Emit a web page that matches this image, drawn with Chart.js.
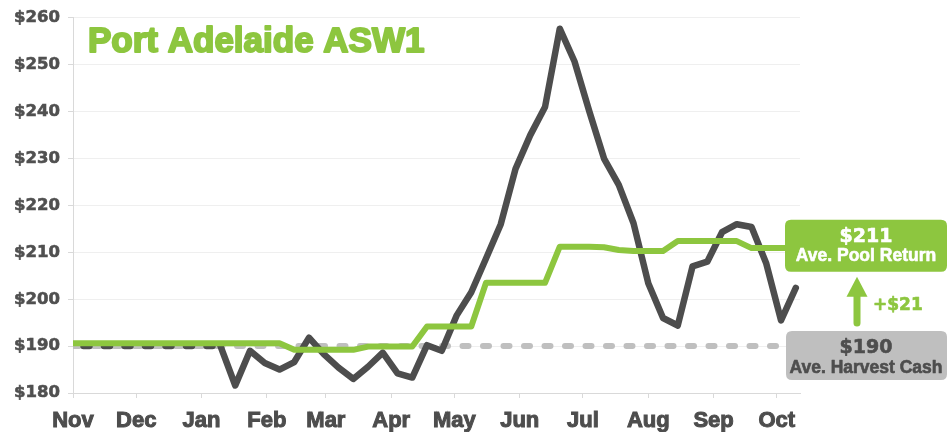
<!DOCTYPE html>
<html>
<head>
<meta charset="utf-8">
<title>Port Adelaide ASW1</title>
<script src="https://cdn.jsdelivr.net/npm/chart.js@4.4.0/dist/chart.umd.min.js"></script>
<style>
  html, body { margin: 0; padding: 0; background: #fff; }
  canvas { display: block; }
</style>
</head>
<body>
<canvas id="chart" width="948" height="432"></canvas>
<script>
// Port Adelaide ASW1 - weekly cash price vs pool return, Nov to Oct

// Weekly observations, as days since 1 Nov
const weekDays = [0, 7, 14, 21, 28, 35, 42, 49, 56, 63,
  70, 77, 84, 91, 98, 105, 112, 119, 126, 133,
  140, 147, 154, 161, 168, 175, 182, 189, 196, 203,
  210, 217, 224, 231, 238, 245, 252, 259, 266, 273,
  280, 287, 294, 301, 308, 315, 322, 329, 336, 343];

// Cash price ($/t)
const cashPrice = [190, 190, 190, 190, 190, 190, 190, 190, 190, 190,
  190, 181.6, 189.0, 186.4, 185.0, 186.6, 191.8, 188.3, 185.4, 183.0,
  185.6, 188.6, 184.2, 183.3, 190.2, 189.0, 196.5, 201.5, 208.7, 216.0,
  227.8, 235.0, 241.0, 257.7, 250.7, 240.1, 230.0, 224.4, 216.2, 203.4,
  196.0, 194.4, 207.0, 208.0, 214.3, 216.0, 215.4, 207.6, 195.5, 202.4];

// Pool return estimate ($/t)
const poolReturn = [190.6, 190.6, 190.6, 190.6, 190.6, 190.6, 190.6, 190.6, 190.6, 190.6,
  190.6, 190.6, 190.6, 190.6, 190.6, 189.2, 189.2, 189.2, 189.2, 189.2,
  189.9, 189.9, 189.9, 189.9, 194.2, 194.2, 194.2, 194.2, 203.5, 203.5,
  203.5, 203.5, 203.5, 211.2, 211.2, 211.2, 211.1, 210.5, 210.3, 210.3,
  210.3, 212.4, 212.4, 212.4, 212.4, 212.4, 210.9, 210.9, 210.9, 210.9];

// Average harvest cash ($/t)
const harvestCash = [190, 190, 190, 190, 190, 190, 190, 190, 190, 190,
  190, 190, 190, 190, 190, 190, 190, 190, 190, 190,
  190, 190, 190, 190, 190, 190, 190, 190, 190, 190,
  190, 190, 190, 190, 190, 190, 190, 190, 190, 190,
  190, 190, 190, 190, 190, 190, 190, 190, 190, 190];

// Month ticks (days since 1 Nov)
const monthDays = [0, 30, 61, 92, 120, 151, 181, 212, 242, 273, 304, 334];
const monthLabels = ['Nov', 'Dec', 'Jan', 'Feb', 'Mar', 'Apr', 'May', 'Jun', 'Jul', 'Aug', 'Sep', 'Oct'];

// Summary figures
const poolAvg = 211;
const cashAvg = 190;
const chartTitle = 'Port Adelaide ASW1';

const DARK = '#4d4d4d';
const GREEN = '#8dc63f';
const GREY = '#bfbfbf';
const WORD_FONT = '"Liberation Sans", Arial, sans-serif';
const NUM_FONT = '"DejaVu Sans", sans-serif';

function toPoints(values) {
  return values.map((v, i) => ({ x: weekDays[i], y: v }));
}

function roundRect(ctx, x, y, w, h, r) {
  ctx.beginPath();
  ctx.moveTo(x + r, y);
  ctx.lineTo(x + w - r, y);
  ctx.quadraticCurveTo(x + w, y, x + w, y + r);
  ctx.lineTo(x + w, y + h - r);
  ctx.quadraticCurveTo(x + w, y + h, x + w - r, y + h);
  ctx.lineTo(x + r, y + h);
  ctx.quadraticCurveTo(x, y + h, x, y + h - r);
  ctx.lineTo(x, y + r);
  ctx.quadraticCurveTo(x, y, x + r, y);
  ctx.closePath();
}

// heavy text: fill plus a thin stroke of the same colour
function heavyText(ctx, text, x, y, color, weight) {
  ctx.fillStyle = color;
  ctx.strokeStyle = color;
  ctx.lineWidth = weight;
  ctx.lineJoin = 'round';
  ctx.strokeText(text, x, y);
  ctx.fillText(text, x, y);
}

// Title inside the plot plus the two summary boxes on the right
const overlayPlugin = {
  id: 'overlay',
  afterDraw(chart) {
    const { ctx, chartArea } = chart;
    const y = chart.scales.y;
    ctx.save();

    ctx.font = 'bold 35px ' + WORD_FONT;
    ctx.textAlign = 'left';
    ctx.textBaseline = 'alphabetic';
    heavyText(ctx, chartTitle, chartArea.left + 15, chartArea.top + 34, GREEN, 2);

    const boxLeft = chartArea.right - 15;
    const boxW = chart.width - 1 - boxLeft;
    const cx = boxLeft + boxW / 2;
    ctx.textAlign = 'center';

    // pool box
    const poolTop = y.getPixelForValue(poolAvg) - 28;
    ctx.fillStyle = GREEN;
    roundRect(ctx, boxLeft, poolTop, boxW, 52, 6);
    ctx.fill();
    ctx.font = 'bold 19px ' + NUM_FONT;
    heavyText(ctx, '$' + poolAvg, cx, poolTop + 22, '#fff', 0.6);
    ctx.font = 'bold 17.5px ' + WORD_FONT;
    heavyText(ctx, 'Ave. Pool Return', cx, poolTop + 41, '#fff', 0.6);

    // cash box
    const cashTop = y.getPixelForValue(cashAvg) - 15;
    ctx.fillStyle = GREY;
    roundRect(ctx, boxLeft + 1, cashTop, boxW - 1, 49, 6);
    ctx.fill();
    ctx.font = 'bold 19px ' + NUM_FONT;
    heavyText(ctx, '$' + cashAvg, cx, cashTop + 22, DARK, 0.6);
    ctx.font = 'bold 17.5px ' + WORD_FONT;
    heavyText(ctx, 'Ave. Harvest Cash', cx, cashTop + 42, DARK, 0.6);

    // arrow between the boxes
    const ax = cx - 9;
    const tip = poolTop + 57;
    const headBase = tip + 20;
    const shaftEnd = cashTop - 8;
    ctx.strokeStyle = GREEN;
    ctx.lineWidth = 7;
    ctx.lineCap = 'round';
    ctx.beginPath();
    ctx.moveTo(ax, headBase - 2);
    ctx.lineTo(ax, shaftEnd);
    ctx.stroke();
    ctx.fillStyle = GREEN;
    ctx.beginPath();
    ctx.moveTo(ax, tip);
    ctx.lineTo(ax + 10.5, headBase);
    ctx.lineTo(ax - 10.5, headBase);
    ctx.closePath();
    ctx.fill();

    ctx.textAlign = 'left';
    ctx.font = 'bold 17px ' + NUM_FONT;
    heavyText(ctx, '+$' + (poolAvg - cashAvg), ax + 16, headBase + 13, GREEN, 0.6);

    ctx.restore();
  }
};

const ctx = document.getElementById('chart').getContext('2d');
new Chart(ctx, {
  type: 'line',
  data: {
    datasets: [
      {
        label: 'Pool Return',
        data: toPoints(poolReturn),
        borderColor: GREEN,
        borderWidth: 6,
        order: 0
      },
      {
        label: 'Cash Price',
        data: toPoints(cashPrice),
        borderColor: DARK,
        borderWidth: 6.5,
        order: 1,
        segment: {
          // early flat weeks show as dark dashes under the pool line
          borderDash: c => (c.p0.parsed.y === cashAvg && c.p1.parsed.y === cashAvg) ? [6, 14.5] : undefined,
          borderDashOffset: c => (c.p0.parsed.y === cashAvg && c.p1.parsed.y === cashAvg) ? 10 : undefined
        }
      },
      {
        label: 'Ave. Harvest Cash',
        data: toPoints(harvestCash),
        borderColor: GREY,
        borderWidth: 6,
        borderDash: [6, 14.5],
        order: 2
      }
    ]
  },
  options: {
    responsive: false,
    animation: false,
    devicePixelRatio: 1,
    layout: { padding: { top: 16, right: 148, bottom: 0, left: 0 } },
    elements: {
      point: { radius: 0 },
      line: { tension: 0, borderCapStyle: 'round', borderJoinStyle: 'round', fill: false }
    },
    plugins: {
      legend: { display: false },
      tooltip: { enabled: false }
    },
    scales: {
      x: {
        type: 'linear',
        min: 0,
        max: 345,
        afterBuildTicks: scale => {
          scale.ticks = monthDays.map(d => ({ value: d }));
        },
        afterFit: scale => { scale.height = 39; },
        ticks: {
          autoSkip: false,
          maxRotation: 0,
          padding: 10,
          color: DARK,
          textStrokeColor: DARK,
          textStrokeWidth: 1,
          font: { family: WORD_FONT, weight: 'bold', size: 22 },
          callback: (value, index) => monthLabels[index]
        },
        grid: {
          drawOnChartArea: false,
          tickLength: 5,
          tickColor: '#d9d9d9'
        },
        border: { color: '#d9d9d9', width: 1 }
      },
      y: {
        min: 180,
        max: 260,
        afterFit: scale => { scale.width = 73; },
        ticks: {
          stepSize: 10,
          padding: 8,
          color: '#505050',
          textStrokeColor: '#505050',
          textStrokeWidth: 0.6,
          font: { family: NUM_FONT, weight: 'bold', size: 16.5 },
          callback: value => '$' + value
        },
        grid: {
          color: '#efefef',
          tickLength: 5,
          tickColor: '#d9d9d9'
        },
        border: { color: '#d9d9d9', width: 1 }
      }
    }
  },
  plugins: [overlayPlugin]
});
</script>
</body>
</html>
